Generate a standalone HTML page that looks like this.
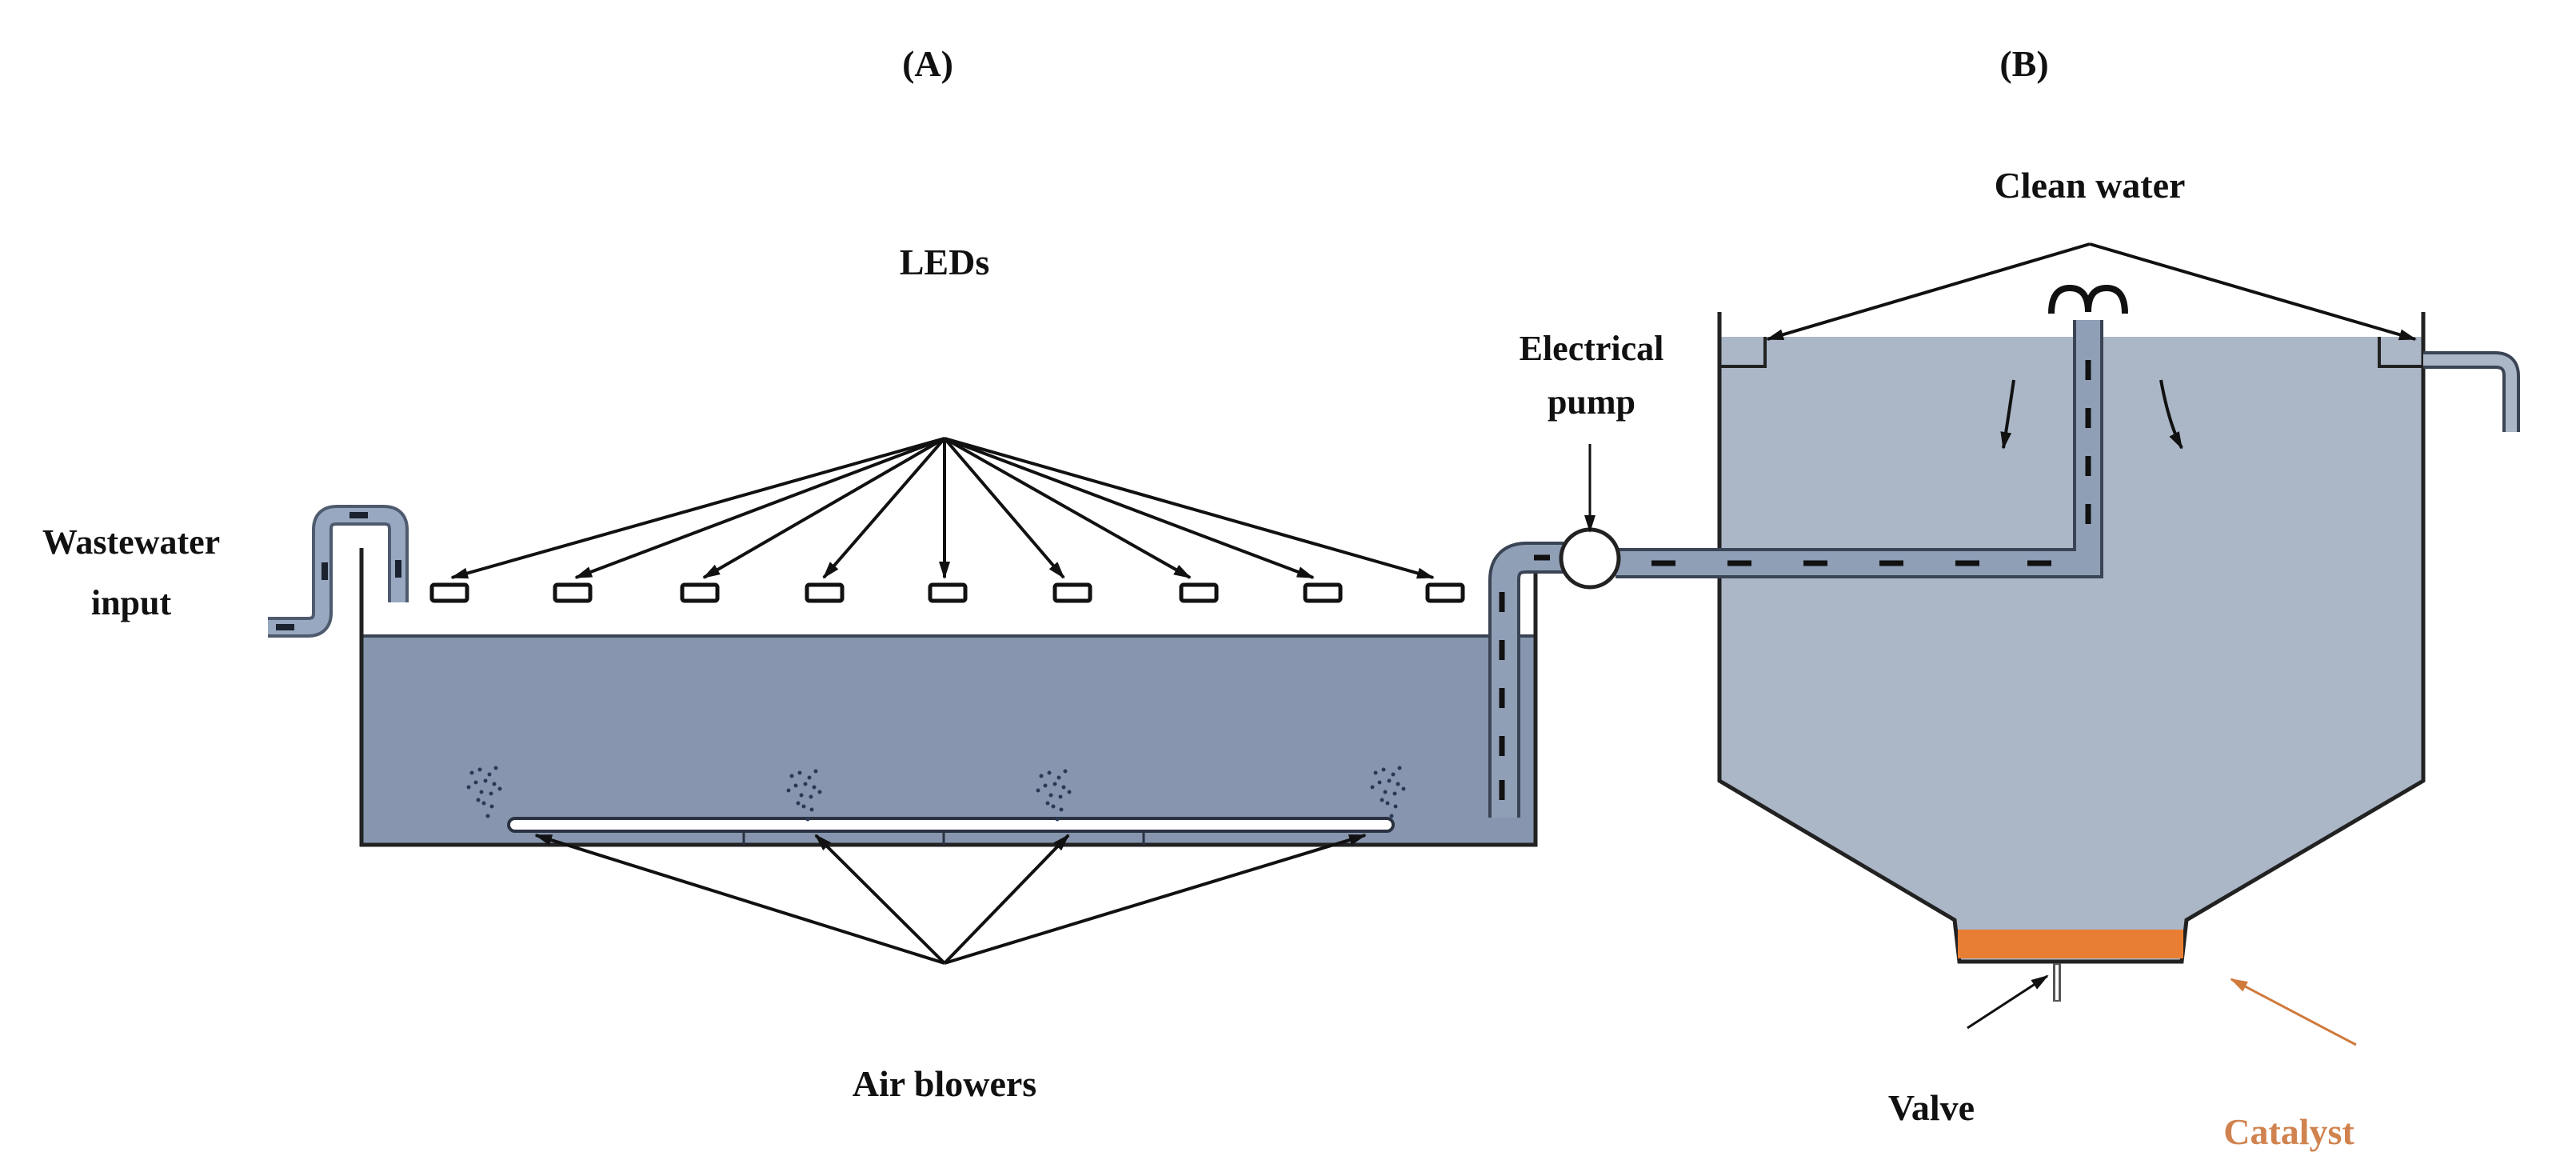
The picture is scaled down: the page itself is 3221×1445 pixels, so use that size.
<!DOCTYPE html>
<html><head><meta charset="utf-8"><style>
html,body{margin:0;padding:0;background:#fff}
svg{display:block}
text{font-family:"Liberation Serif",serif;font-weight:bold;fill:#111}
</style></head><body>
<svg width="3221" height="1445" viewBox="0 0 3221 1445" xmlns="http://www.w3.org/2000/svg">
<defs>
<marker id="ah" markerWidth="22" markerHeight="16" refX="20" refY="8" orient="auto" markerUnits="userSpaceOnUse"><path d="M0,1 L22,8 L0,15 Z" fill="#111"/></marker>
<marker id="aho" markerWidth="22" markerHeight="16" refX="20" refY="8" orient="auto" markerUnits="userSpaceOnUse"><path d="M0,1 L22,8 L0,15 Z" fill="#d07a3c"/></marker>
<g id="bub" fill="#2a3a55"><circle cx="0" cy="0" r="2.5"/><circle cx="10" cy="-4" r="2.5"/><circle cx="22" cy="2" r="2.5"/><circle cx="30" cy="-6" r="2.5"/><circle cx="5" cy="12" r="2.5"/><circle cx="17" cy="10" r="2.5"/><circle cx="28" cy="14" r="2.5"/><circle cx="12" cy="24" r="2.5"/><circle cx="24" cy="26" r="2.5"/><circle cx="35" cy="20" r="2.5"/><circle cx="15" cy="38" r="2.5"/><circle cx="25" cy="42" r="2.5"/><circle cx="20" cy="54" r="2.5"/><circle cx="-4" cy="18" r="2.5"/><circle cx="8" cy="34" r="2.5"/></g>
</defs>
<text x="1160" y="95" font-size="46" text-anchor="middle">(A)</text>
<text x="2531" y="95" font-size="46" text-anchor="middle">(B)</text>

<!-- Tank A -->
<rect x="452" y="795" width="1468" height="261" fill="#8796ae"/>
<line x1="452" y1="795" x2="1920" y2="795" stroke="#3a4454" stroke-width="4"/>
<path d="M452,685 L452,1056 L1920,1056 L1920,685" fill="none" stroke="#222" stroke-width="5"/>

<!-- wastewater pipe -->
<path d="M335,784 L385,784 Q403,784 403,766 L403,662 Q403,644 421,644 L480,644 Q498,644 498,662 L498,753" fill="none" stroke="#4e5a6e" stroke-width="26"/>
<path d="M335,784 L385,784 Q403,784 403,766 L403,662 Q403,644 421,644 L480,644 Q498,644 498,662 L498,753" fill="none" stroke="#98a8c0" stroke-width="18"/>
<g stroke="#1a2230" stroke-width="8"><line x1="345" y1="784" x2="368" y2="784"/><line x1="437" y1="644" x2="460" y2="644"/><line x1="406" y1="703" x2="406" y2="725"/><line x1="498" y1="700" x2="498" y2="722"/></g>
<text x="164" y="692" font-size="44" text-anchor="middle">Wastewater</text>
<text x="164" y="768" font-size="44" text-anchor="middle">input</text>

<!-- LEDs -->
<text x="1181" y="343" font-size="46" text-anchor="middle">LEDs</text>
<g stroke="#111" stroke-width="4" marker-end="url(#ah)">
<line x1="1181" y1="548" x2="565" y2="722"/><line x1="1181" y1="548" x2="720" y2="722"/>
<line x1="1181" y1="548" x2="880" y2="722"/><line x1="1181" y1="548" x2="1030" y2="722"/>
<line x1="1181" y1="548" x2="1181" y2="722"/><line x1="1181" y1="548" x2="1330" y2="722"/>
<line x1="1181" y1="548" x2="1488" y2="722"/><line x1="1181" y1="548" x2="1642" y2="722"/>
<line x1="1181" y1="548" x2="1792" y2="722"/>
</g>
<g fill="#fff" stroke="#111" stroke-width="5">
<rect x="540" y="731" width="44" height="20" rx="3"/><rect x="694" y="731" width="44" height="20" rx="3"/>
<rect x="853" y="731" width="44" height="20" rx="3"/><rect x="1009" y="731" width="44" height="20" rx="3"/>
<rect x="1163" y="731" width="44" height="20" rx="3"/><rect x="1319" y="731" width="44" height="20" rx="3"/>
<rect x="1477" y="731" width="44" height="20" rx="3"/><rect x="1632" y="731" width="44" height="20" rx="3"/>
<rect x="1785" y="731" width="44" height="20" rx="3"/>
</g>

<!-- air bar and bubbles -->
<rect x="636" y="1023" width="1106" height="16" rx="8" fill="#fff" stroke="#2a3242" stroke-width="4"/>
<g stroke="#2a3242" stroke-width="3"><line x1="930" y1="1040" x2="930" y2="1056"/><line x1="1180" y1="1040" x2="1180" y2="1056"/><line x1="1430" y1="1040" x2="1430" y2="1056"/></g>
<use href="#bub" x="590" y="966"/><use href="#bub" x="990" y="970"/><use href="#bub" x="1302" y="970"/><use href="#bub" x="1720" y="966"/>
<text x="1181" y="1370" font-size="46" text-anchor="middle">Air blowers</text>
<g stroke="#111" stroke-width="4" marker-end="url(#ah)">
<line x1="1181" y1="1204" x2="670" y2="1044"/><line x1="1181" y1="1204" x2="1020" y2="1044"/>
<line x1="1181" y1="1204" x2="1336" y2="1044"/><line x1="1181" y1="1204" x2="1707" y2="1044"/>
</g>

<!-- Tank B -->
<path d="M2150,421 L3030,421 L3030,976 L2734,1150 L2728,1202 L2450,1202 L2444,1150 L2150,976 Z" fill="#abb6c7"/>
<path d="M2150,390 L2150,976 L2444,1150 L2450,1202 L2728,1202 L2734,1150 L3030,976 L3030,390" fill="none" stroke="#222" stroke-width="5"/>
<path d="M2150,458 L2207,458 L2207,421" fill="none" stroke="#222" stroke-width="4"/>
<path d="M3030,458 L2975,458 L2975,421" fill="none" stroke="#222" stroke-width="4"/>
<path d="M3030,450 L3120,450 Q3140,450 3140,470 L3140,540" fill="none" stroke="#3a4454" stroke-width="22"/>
<path d="M3030,450 L3120,450 Q3140,450 3140,470 L3140,540" fill="none" stroke="#abb6c7" stroke-width="14"/>
<rect x="2448" y="1162" width="282" height="36" fill="#e87e33"/>
<line x1="2572" y1="1204" x2="2572" y2="1252" stroke="#555" stroke-width="10"/>
<line x1="2572" y1="1206" x2="2572" y2="1250" stroke="#fff" stroke-width="4"/>

<!-- pump pipes -->
<path d="M1881,1022 L1881,725 Q1881,697 1909,697 L1955,697" fill="none" stroke="#3a4454" stroke-width="40"/>
<path d="M1881,1022 L1881,725 Q1881,697 1909,697 L1955,697" fill="none" stroke="#8f9fb6" stroke-width="32"/>
<path d="M2020,704 L2611,704 L2611,400" fill="none" stroke="#3a4454" stroke-width="38"/>
<path d="M2020,704 L2611,704 L2611,400" fill="none" stroke="#8f9fb6" stroke-width="30"/>
<g stroke="#111" stroke-width="7">
<line x1="1918" y1="697" x2="1938" y2="697"/>
<line x1="1878" y1="740" x2="1878" y2="765"/><line x1="1878" y1="800" x2="1878" y2="825"/><line x1="1878" y1="860" x2="1878" y2="885"/><line x1="1878" y1="920" x2="1878" y2="945"/><line x1="1878" y1="975" x2="1878" y2="1000"/>
<line x1="2065" y1="704" x2="2095" y2="704"/><line x1="2160" y1="704" x2="2190" y2="704"/><line x1="2255" y1="704" x2="2285" y2="704"/><line x1="2350" y1="704" x2="2380" y2="704"/><line x1="2445" y1="704" x2="2475" y2="704"/><line x1="2535" y1="704" x2="2565" y2="704"/>
<line x1="2611" y1="450" x2="2611" y2="475"/><line x1="2611" y1="510" x2="2611" y2="535"/><line x1="2611" y1="570" x2="2611" y2="595"/><line x1="2611" y1="630" x2="2611" y2="655"/>
</g>
<circle cx="1988" cy="698" r="36" fill="#fff" stroke="#222" stroke-width="5"/>
<text x="1990" y="450" font-size="44" text-anchor="middle" font-weight="normal">Electrical</text>
<text x="1990" y="517" font-size="44" text-anchor="middle" font-weight="normal">pump</text>
<line x1="1988" y1="555" x2="1988" y2="664" stroke="#111" stroke-width="3" marker-end="url(#ah)"/>

<!-- fountain -->
<path d="M2565,392 Q2565,360 2588,360 Q2611,360 2611,390 Q2611,360 2634,360 Q2657,360 2657,392" fill="none" stroke="#111" stroke-width="8"/>
<path d="M2518,475 Q2510,530 2505,560" fill="none" stroke="#111" stroke-width="4" marker-end="url(#ah)"/>
<path d="M2702,475 Q2712,530 2728,560" fill="none" stroke="#111" stroke-width="4" marker-end="url(#ah)"/>

<text x="2613" y="247" font-size="46" text-anchor="middle">Clean water</text>
<g stroke="#111" stroke-width="4" marker-end="url(#ah)">
<line x1="2613" y1="305" x2="2210" y2="424"/><line x1="2613" y1="305" x2="3020" y2="424"/>
</g>
<text x="2415" y="1400" font-size="46" text-anchor="middle">Valve</text>
<line x1="2460" y1="1285" x2="2560" y2="1220" stroke="#111" stroke-width="3" marker-end="url(#ah)"/>
<text x="2862" y="1430" font-size="46" text-anchor="middle" style="fill:#d0834f">Catalyst</text>
<line x1="2946" y1="1306" x2="2790" y2="1224" stroke="#d07a3c" stroke-width="3" marker-end="url(#aho)"/>
</svg>
</body></html>
